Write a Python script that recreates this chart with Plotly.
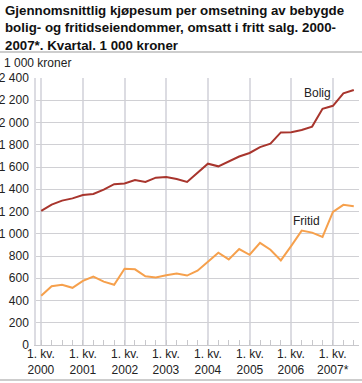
import plotly.graph_objects as go

quarters = [f"{y}K{q}" for y in range(2000, 2008) for q in range(1, 5)][:31]
bolig = [1205, 1262, 1298, 1318, 1348, 1358, 1396, 1446, 1452, 1483, 1465, 1504, 1510,
         1492, 1466, 1546, 1630, 1606, 1651, 1694, 1726, 1779, 1809, 1911, 1913, 1933,
         1963, 2123, 2150, 2262, 2292]
fritid = [443, 529, 541, 514, 576, 615, 570, 541, 686, 680, 618, 606, 627, 642, 624, 668,
          749, 829, 769, 862, 811, 918, 856, 760, 891, 1028, 1010, 971, 1197, 1260, 1248]
year_labels = ["2000", "2001", "2002", "2003", "2004", "2005", "2006", "2007*"]
quarter_label = "1. kv."
y_ticks = [0, 200, 400, 600, 800, 1000, 1200, 1400, 1600, 1800, 2000, 2200, 2400]

W, H = 362, 383
L, R, T, B = 36, 3, 78, 38
pw, ph = W - L - R, H - T - B
def px_x(p):
    return (p - L) / pw
def px_y(p):
    return (H - B - p) / ph

x = list(range(len(quarters)))
year_pos = [quarters.index(f"{y[:4]}K1") for y in year_labels]

FONT = "Liberation Sans, Arial, sans-serif"
fig = go.Figure()
fig.add_trace(go.Scatter(x=x, y=bolig, mode="lines", line=dict(color="#a8352d", width=2),
                         name="Bolig", hoverinfo="skip"))
fig.add_trace(go.Scatter(x=x, y=fritid, mode="lines", line=dict(color="#f6a04c", width=2),
                         name="Fritid", hoverinfo="skip"))

ann = []
for xp, yl in zip(year_pos, year_labels):
    ann.append(dict(x=xp, y=px_y(362), xref="x", yref="paper", text=f"{quarter_label}<br>{yl}",
                    showarrow=False, font=dict(size=12, color="#222", family=FONT),
                    xanchor="center", yanchor="middle", align="center"))
ann.append(dict(x=26.5, y=2265, text="Bolig", showarrow=False,
                font=dict(size=12, color="#222", family=FONT)))
ann.append(dict(x=25.5, y=1115, text="Fritid", showarrow=False,
                font=dict(size=12, color="#222", family=FONT)))
ann.append(dict(x=px_x(2), y=px_y(63), xref="paper", yref="paper", text="1 000 kroner",
                showarrow=False, xanchor="left", yanchor="middle",
                font=dict(size=12, color="#222", family=FONT)))
ann.append(dict(x=px_x(3), y=px_y(1), xref="paper", yref="paper",
                text="<b>Gjennomsnittlig kjøpesum per omsetning av bebygde<br>bolig- og fritidseiendommer, omsatt i fritt salg. 2000-<br>2007*. Kvartal. 1 000 kroner</b>",
                showarrow=False, xanchor="left", yanchor="top", align="left",
                font=dict(size=13.3, color="#111", family=FONT)))

shapes = [
    dict(type="line", xref="paper", yref="paper", x0=px_x(0), x1=px_x(W), y0=px_y(52), y1=px_y(52),
         line=dict(color="#bdbdbd", width=1.5)),
    dict(type="line", xref="paper", yref="paper", x0=px_x(0), x1=px_x(W), y0=px_y(380), y1=px_y(380),
         line=dict(color="#bdbdbd", width=1.5)),
]

fig.update_layout(
    width=W, height=H, margin=dict(l=L, r=R, t=T, b=B, autoexpand=False),
    paper_bgcolor="white", plot_bgcolor="white", showlegend=False,
    annotations=ann, shapes=shapes,
    font=dict(family=FONT, size=12, color="#222"),
)
fig.update_xaxes(range=[-0.5, len(quarters) - 0.5], tickmode="array", tickvals=year_pos,
                 showticklabels=False, showgrid=True, gridcolor="#dcdce2", gridwidth=1.5,
                 showline=True, linecolor="#c8c8cc", linewidth=1, zeroline=False,
                 ticks="inside", ticklen=5, tickcolor="#c8c8cc", automargin=False,
                 minor=dict(tickmode="linear", tick0=0, dtick=1, ticks="inside", ticklen=5,
                            tickcolor="#c8c8cc", showgrid=False))
fig.update_yaxes(range=[0, 2400], tickmode="array", tickvals=y_ticks,
                 ticktext=[f"{v:,}".replace(",", " ") for v in y_ticks],
                 showgrid=True, gridcolor="#d0d0d4", gridwidth=1, zeroline=False,
                 showline=True, linecolor="#dcdce2", linewidth=1.5, ticks="", automargin=False,
                 ticklabelstandoff=3, tickfont=dict(size=12, color="#222", family=FONT))
fig.write_html("out.html", config={"displayModeBar": False},
               post_script="document.body.style.margin='0';document.body.style.overflow='hidden';")
